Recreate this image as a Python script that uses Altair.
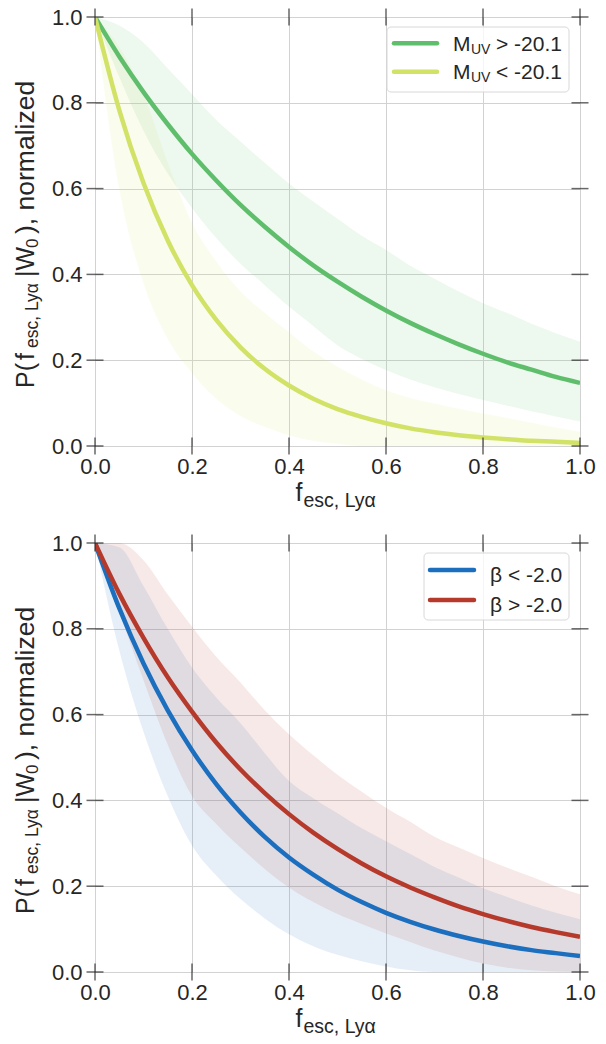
import altair as alt
import pandas as pd

# ---------------- data ----------------
X = [0.00, 0.05, 0.10, 0.15, 0.20, 0.25, 0.30, 0.35, 0.40, 0.45, 0.50,
     0.55, 0.60, 0.65, 0.70, 0.75, 0.80, 0.85, 0.90, 0.95, 1.00]

# top panel
GREEN_MID = [1.000, 0.908, 0.825, 0.750, 0.681, 0.619, 0.562, 0.511, 0.464, 0.421, 0.383,
             0.348, 0.316, 0.287, 0.261, 0.237, 0.215, 0.195, 0.178, 0.161, 0.147]
GREEN_HI = [1.000, 0.980, 0.940, 0.880, 0.820, 0.760, 0.710, 0.660, 0.612, 0.570, 0.530,
            0.490, 0.457, 0.420, 0.390, 0.360, 0.333, 0.310, 0.285, 0.263, 0.243]
GREEN_LO = [1.000, 0.860, 0.735, 0.635, 0.555, 0.485, 0.425, 0.375, 0.325, 0.280, 0.235,
            0.203, 0.177, 0.155, 0.137, 0.121, 0.107, 0.094, 0.081, 0.069, 0.057]
YELLOW_MID = [1.000, 0.783, 0.613, 0.479, 0.375, 0.294, 0.230, 0.180, 0.141, 0.110, 0.086,
              0.068, 0.053, 0.041, 0.032, 0.025, 0.020, 0.016, 0.012, 0.010, 0.007]
YELLOW_HI = [1.000, 0.930, 0.820, 0.660, 0.520, 0.430, 0.360, 0.310, 0.265, 0.220, 0.185,
             0.155, 0.130, 0.112, 0.099, 0.087, 0.076, 0.065, 0.054, 0.043, 0.033]
YELLOW_LO = [1.000, 0.600, 0.380, 0.250, 0.170, 0.110, 0.070, 0.045, 0.025, 0.012, 0.005,
             0.000, 0.000, 0.000, 0.000, 0.000, 0.000, 0.000, 0.000, 0.000, 0.000]

# bottom panel
BLUE_MID = [1.000, 0.848, 0.719, 0.610, 0.517, 0.438, 0.372, 0.315, 0.267, 0.227, 0.192,
            0.163, 0.138, 0.117, 0.099, 0.084, 0.071, 0.060, 0.051, 0.044, 0.037]
BLUE_HI = [1.000, 0.990, 0.900, 0.800, 0.710, 0.640, 0.580, 0.510, 0.445, 0.405, 0.370,
           0.335, 0.305, 0.275, 0.245, 0.220, 0.195, 0.175, 0.155, 0.138, 0.123]
BLUE_LO = [1.000, 0.750, 0.560, 0.410, 0.295, 0.225, 0.170, 0.125, 0.088, 0.060, 0.040,
           0.025, 0.013, 0.004, 0.000, 0.000, 0.000, 0.000, 0.000, 0.000, 0.000]
RED_MID = [1.000, 0.882, 0.779, 0.687, 0.607, 0.535, 0.472, 0.417, 0.368, 0.325, 0.287,
           0.253, 0.223, 0.197, 0.174, 0.153, 0.135, 0.119, 0.105, 0.093, 0.082]
RED_HI = [1.000, 1.000, 0.960, 0.880, 0.805, 0.735, 0.675, 0.610, 0.554, 0.505, 0.460,
          0.420, 0.383, 0.350, 0.315, 0.290, 0.266, 0.243, 0.222, 0.200, 0.181]
RED_LO = [1.000, 0.840, 0.680, 0.530, 0.410, 0.345, 0.290, 0.240, 0.197, 0.163, 0.135,
          0.112, 0.090, 0.070, 0.050, 0.034, 0.020, 0.010, 0.004, 0.001, 0.000]

TICK_VALUES = [0.0, 0.2, 0.4, 0.6, 0.8, 1.0]

TOP_NAMES = ["M_UV > -20.1", "M_UV < -20.1"]
TOP_COLORS = ["#5fbe6b", "#d1e266"]
BOT_NAMES = ["β < -2.0", "β > -2.0"]
BOT_COLORS = ["#1b6fbe", "#b53a2b"]

# ---------------- style ----------------
W, H = 485, 429
FONT = "Liberation Sans"
TXT = "#262626"


def long_df(names, mids, los, his):
    rows = []
    for name, m, lo, hi in zip(names, mids, los, his):
        for xv, a, b, c in zip(X, m, lo, hi):
            rows.append({"x": xv, "mid": a, "lo": b, "hi": c, "name": name})
    return pd.DataFrame(rows)


def one(values):
    return alt.Data(values=[values])


def text_piece(txt, x, y, size, angle=0):
    kw = dict(font=FONT, fontSize=size, color=TXT, align="left", baseline="alphabetic")
    if angle:
        kw["angle"] = angle
    return alt.Chart(one({"t": txt})).mark_text(**kw).encode(
        text="t:N", x=alt.value(x), y=alt.value(y))


def panel(names, colors, mids, los, his, legend):
    df = long_df(names, mids, los, his)
    xscale = alt.Scale(domain=[0, 1], nice=False, zero=False)
    yscale = alt.Scale(domain=[0, 1], nice=False, zero=False)
    cscale = alt.Scale(domain=names, range=colors)
    axis_common = dict(values=TICK_VALUES, format=".1f", ticks=False, domain=False,
                       grid=True, gridColor="#d2d2d2", gridWidth=1,
                       labelFont=FONT, labelFontSize=22, labelColor=TXT,
                       title=None, labelFlush=False, labelOverlap=False)
    base = alt.Chart(df)
    area = base.mark_area(opacity=0.11, interpolate="monotone", clip=True).encode(
        x=alt.X("x:Q", scale=xscale, axis=alt.Axis(labelPadding=10, **axis_common)),
        y=alt.Y("lo:Q", scale=yscale, axis=alt.Axis(labelPadding=13, **axis_common)),
        y2="hi:Q",
        color=alt.Color("name:N", scale=cscale, legend=None),
    )
    line = base.mark_line(strokeWidth=4.5, interpolate="monotone", clip=True).encode(
        x="x:Q", y="mid:Q",
        color=alt.Color("name:N", scale=cscale, legend=None),
    )
    tdf = pd.DataFrame({"v": TICK_VALUES})
    tick_kw = dict(size=17, thickness=1.5, color=TXT)
    t_left = alt.Chart(tdf).mark_tick(orient="horizontal", **tick_kw).encode(
        x=alt.XDatum(0), y=alt.Y("v:Q"))
    t_right = alt.Chart(tdf).mark_tick(orient="horizontal", **tick_kw).encode(
        x=alt.XDatum(1), y=alt.Y("v:Q"))
    t_bot = alt.Chart(tdf).mark_tick(orient="vertical", **tick_kw).encode(
        x=alt.X("v:Q"), y=alt.YDatum(0))
    t_top = alt.Chart(tdf).mark_tick(orient="vertical", **tick_kw).encode(
        x=alt.X("v:Q"), y=alt.YDatum(1))

    layers = [area, line, t_left, t_right, t_bot, t_top]

    # legend box (positions measured from the plot's right edge)
    lg = legend
    layers.append(alt.Chart(one({})).mark_rect(
        cornerRadius=4, fill="white", fillOpacity=0.8, stroke="#d8d8d8", strokeWidth=1
    ).encode(x=alt.value(W - lg["box"][0]), x2=alt.value(W - lg["box"][1]),
             y=alt.value(lg["box"][2]), y2=alt.value(lg["box"][3])))
    for i, col in enumerate(colors):
        ly = lg["rows"][i]
        layers.append(alt.Chart(one({})).mark_rule(strokeWidth=4.5, color=col, strokeCap="round").encode(
            x=alt.value(W - lg["line"][0]), x2=alt.value(W - lg["line"][1]), y=alt.value(ly)))
        for (txt, px, dy, fs) in lg["texts"][i]:
            layers.append(text_piece(txt, W - px, ly + dy, fs))

    # y title (rotated, reads upward)
    xb_main, xb_sub = -61, -57
    for (txt, ystart, fs, sub) in [("P(", 371, 25, False), ("f", 343, 25, False),
                                   ("esc, Lyα", 331, 17.5, True),
                                   ("|W", 260, 25, False), ("0", 231, 17, True),
                                   ("), normalized", 217, 26.5, False)]:
        layers.append(text_piece(txt, xb_sub if sub else xb_main, ystart, fs, angle=270))
    # x title
    layers.append(text_piece("f", W / 2 - 42, H + 55, 25))
    layers.append(text_piece("esc, Lyα", W / 2 - 34, H + 61, 19.5))

    return alt.layer(*layers).properties(width=W, height=H)


top_legend = {
    "box": (193, 11, 10, 75),
    "line": (186, 143),
    "rows": (26.3, 54.7),
    "texts": [
        [("M", 127, 7.4, 21), ("UV", 109, 10.5, 14), ("> -20.1", 84, 7.4, 21)],
        [("M", 127, 7.6, 21), ("UV", 109, 10.7, 14), ("< -20.1", 84, 7.6, 21)],
    ],
}
bot_legend = {
    "box": (156, 11, 10, 77),
    "line": (150, 106),
    "rows": (27, 57),
    "texts": [
        [("β < -2.0", 90, 11.5, 21)],
        [("β > -2.0", 90, 11.5, 21)],
    ],
}

top = panel(TOP_NAMES, TOP_COLORS, [GREEN_MID, YELLOW_MID], [GREEN_LO, YELLOW_LO],
            [GREEN_HI, YELLOW_HI], top_legend)
bottom = panel(BOT_NAMES, BOT_COLORS, [BLUE_MID, RED_MID], [BLUE_LO, RED_LO],
               [BLUE_HI, RED_HI], bot_legend)

chart = alt.vconcat(top, bottom, spacing=20).resolve_scale(color="independent").properties(
    padding={"left": 4, "top": -3, "right": 0, "bottom": 0}
).configure_view(stroke=TXT, strokeWidth=1.5).configure(background="white")

chart.save("out.html", embed_options={"renderer": "svg", "actions": False})
